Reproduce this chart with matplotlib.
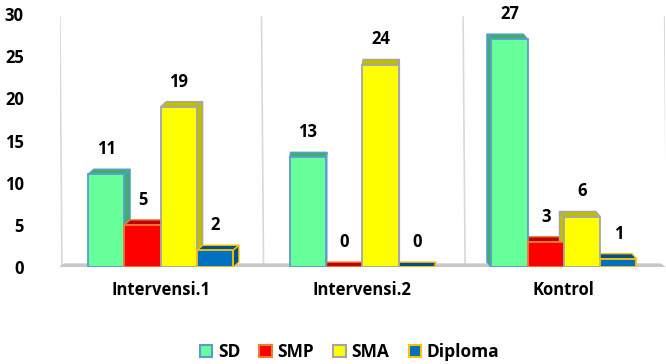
import numpy as np
import matplotlib.pyplot as plt
from matplotlib.patches import Polygon, Patch

plt.rcParams['font.family'] = ['Open Sans', 'DejaVu Sans']
plt.rcParams['font.weight'] = 'bold'

groups = ['Intervensi.1', 'Intervensi.2', 'Kontrol']
series = ['SD', 'SMP', 'SMA', 'Diploma']
sd = [11, 13, 27]
smp = [5, 0, 3]
sma = [19, 24, 6]
diploma = [2, 0, 1]
values = [sd, smp, sma, diploma]

face = ['#66FF99', '#FF0000', '#FFFF00', '#0070C0']
edge = ['#5B9BD5', '#ED7D31', '#A5A5A5', '#FFC000']
shade = ['#3FAF68', '#C00000', '#BFBF00', '#00508A']

# perspective shift of the top/side faces, one per group
depth_dx = [0.028, 0.004, -0.022]
depth_dy = 0.6

fig = plt.figure(figsize=(6.66, 3.64), dpi=100)
ax = fig.add_axes([0.09, 0.266, 0.908, 0.696])

x = np.arange(len(groups))
w = 0.18

# back wall separators and floor
for xv in np.arange(-0.5, len(groups), 1.0):
    ax.plot([xv + 0.01, xv], [0, 29.6], color='#D9D9D9', lw=1.2, zorder=0)
ax.add_patch(Polygon([(-0.52, -0.2), (2.52, -0.2), (2.48, 0.45), (-0.48, 0.45)],
                     closed=True, fc='#C8C8C8', ec='none', zorder=0.5))

for i, (vals, fc, ec, sc) in enumerate(zip(values, face, edge, shade)):
    xs = x + (i - 1.5) * w
    bars = ax.bar(xs, vals, width=w, color=fc, edgecolor=ec, lw=1.3, zorder=3)
    for g, (b, v) in enumerate(zip(bars, vals)):
        x0 = b.get_x()
        dx = depth_dx[g]
        top = [(x0, v), (x0 + w, v), (x0 + w + dx, v + depth_dy), (x0 + dx, v + depth_dy)]
        ax.add_patch(Polygon(top, closed=True, fc=sc, ec=ec, lw=1.0, zorder=2))
        if dx > 0:
            side = [(x0 + w, 0), (x0 + w + dx, depth_dy), (x0 + w + dx, v + depth_dy), (x0 + w, v)]
        else:
            side = [(x0, 0), (x0 + dx, depth_dy), (x0 + dx, v + depth_dy), (x0, v)]
        ax.add_patch(Polygon(side, closed=True, fc=sc, ec=ec, lw=1.0, zorder=2))
        ax.text(x0 + w / 2, v + depth_dy + 1.3, str(v), ha='center', va='bottom',
                fontsize=12, fontweight='bold', color='black')

ax.set_xlim(-0.5, 2.5)
ax.set_ylim(0, 30)
ax.set_yticks(range(0, 31, 5))
ax.set_xticks(x)
ax.set_xticklabels(groups, fontsize=12, fontweight='bold')
ax.tick_params(axis='both', length=0, labelsize=12)
ax.tick_params(axis='x', pad=10)
ax.tick_params(axis='y', pad=26)
for lbl in ax.get_yticklabels():
    lbl.set_fontweight('bold')
for s in ax.spines.values():
    s.set_visible(False)

handles = [Patch(fc=fc, ec=ec, lw=1.5) for fc, ec in zip(face, edge)]
fig.legend(handles, series, loc='center', bbox_to_anchor=(0.525, 0.033), ncol=4,
           frameon=False, prop={'size': 12.5, 'weight': 'bold'},
           handlelength=0.7, handleheight=0.7, handletextpad=0.35, columnspacing=1.1)

fig.savefig('out.png', dpi=100)
